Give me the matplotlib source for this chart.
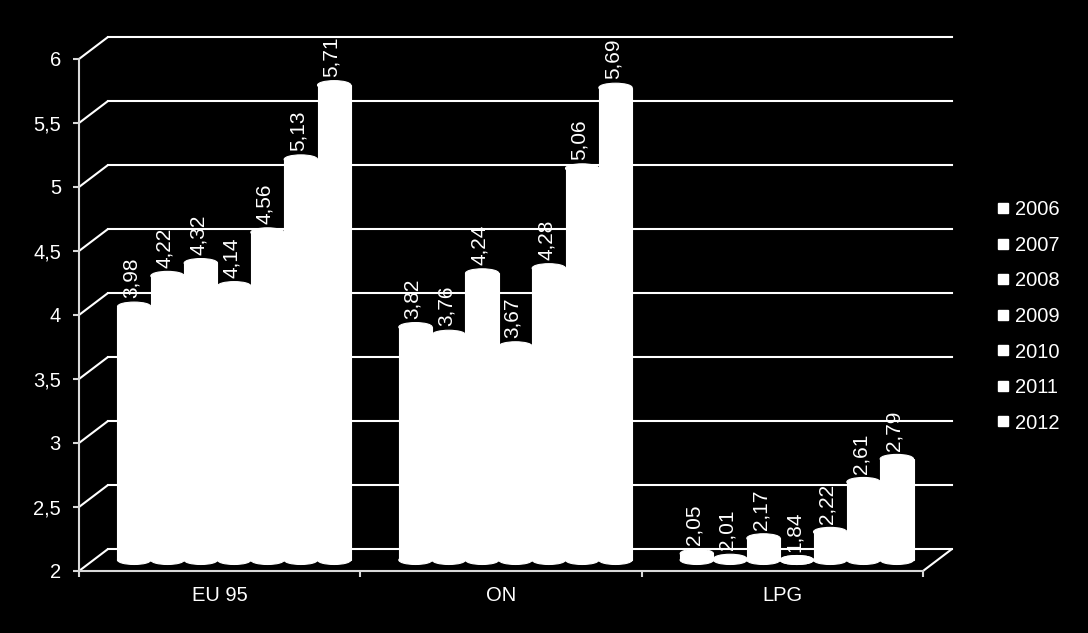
import matplotlib
matplotlib.use("Agg")
import matplotlib.pyplot as plt
import matplotlib.transforms as mtransforms
from matplotlib.patches import Ellipse, ConnectionPatch
from matplotlib.lines import Line2D

# dane
categories = ['EU 95', 'ON', 'LPG']
years = ['2006', '2007', '2008', '2009', '2010', '2011', '2012']
eu95 = [3.98, 4.22, 4.32, 4.14, 4.56, 5.13, 5.71]
on = [3.82, 3.76, 4.24, 3.67, 4.28, 5.06, 5.69]
lpg = [2.05, 2.01, 2.17, 1.84, 2.22, 2.61, 2.79]
yticks = [2, 2.5, 3, 3.5, 4, 4.5, 5, 5.5, 6]
ytick_labels = ['2', '2,5', '3', '3,5', '4', '4,5', '5', '5,5', '6']

plt.rcParams['font.family'] = ['Liberation Sans', 'DejaVu Sans']
plt.rcParams['font.size'] = 14.5

fig = plt.figure(figsize=(10.88, 6.33), dpi=100, facecolor='black')
ax = fig.add_axes([79 / 1088, 62 / 633, 844 / 1088, 512 / 633])
ax.set_facecolor('none')
ax.set_xlim(0, 3)
ax.set_ylim(2, 6)

axis_col = '#d9d9d9'
# przesuniecia glebi (efekt 3D)
back = ax.transData + mtransforms.ScaledTranslation(0.29, 0.22, fig.dpi_scale_trans)
mid = ax.transData + mtransforms.ScaledTranslation(0.145, 0.11, fig.dpi_scale_trans)

# siatka na tylnej scianie + skosy na lewej scianie
for y in yticks:
    ax.plot([0, 3], [y, y], transform=back, color='white', lw=1.5, clip_on=False, zorder=1)
    cp = ConnectionPatch((0, y), (0, y), coordsA=ax.transData, coordsB=back,
                         color='white', lw=1.5, zorder=1)
    ax.add_artist(cp)
cp = ConnectionPatch((3, 2), (3, 2), coordsA=ax.transData, coordsB=back,
                     color='white', lw=1.5, zorder=1)
ax.add_artist(cp)

# slupki - walce
w = 0.1185
eh = 0.07
handles = []
for j, year in enumerate(years):
    vals = [eu95[j], on[j], lpg[j]]
    xs = [i + 0.5 + (j - 3) * w for i in range(len(categories))]
    heights = [max(v - 2, 0) for v in vals]
    ax.bar(xs, heights, bottom=2, width=w, color='white', edgecolor='white',
           linewidth=0.8, transform=mid, clip_on=False, zorder=3)
    for x, v in zip(xs, vals):
        top = max(v, 2)
        ax.add_patch(Ellipse((x, 2), w, eh, fc='white', ec='white', lw=0.8,
                             transform=mid, clip_on=False, zorder=3.5))
        ax.add_patch(Ellipse((x, top), w, eh, fc='white', ec='white', lw=0.8,
                             transform=mid, clip_on=False, zorder=3.5))
        ax.annotate(str(v).replace('.', ','), xy=(x, top), xycoords=mid,
                    xytext=(-2, 6), textcoords='offset points', rotation=90,
                    ha='center', va='bottom', color='white', fontsize=15, zorder=5)
    handles.append(Line2D([], [], ls='none', marker='s', markersize=7,
                          color='white', label=year))

# osie
for s in ['top', 'right']:
    ax.spines[s].set_visible(False)
ax.spines['left'].set_color(axis_col)
ax.spines['bottom'].set_color(axis_col)
ax.spines['left'].set_linewidth(1.5)
ax.spines['bottom'].set_linewidth(1.5)
ax.set_yticks(yticks)
ax.set_yticklabels(ytick_labels)
ax.set_xticks([0.5, 1.5, 2.5])
ax.set_xticklabels(categories)
ax.set_xticks([0, 1, 2, 3], minor=True)
ax.tick_params(axis='y', colors=axis_col, labelcolor='white', length=4, width=1.5, pad=9)
ax.tick_params(axis='x', which='major', length=0, labelcolor='white', pad=11)
ax.tick_params(axis='x', which='minor', colors=axis_col, length=4, width=1.5)

fig.legend(handles=handles, loc='center left', bbox_to_anchor=(996 / 1088, 0.5),
           frameon=False, labelcolor='white', handlelength=0.7, handletextpad=0.25,
           labelspacing=0.82, borderpad=0, borderaxespad=0)

fig.savefig('out.png', facecolor='black')
